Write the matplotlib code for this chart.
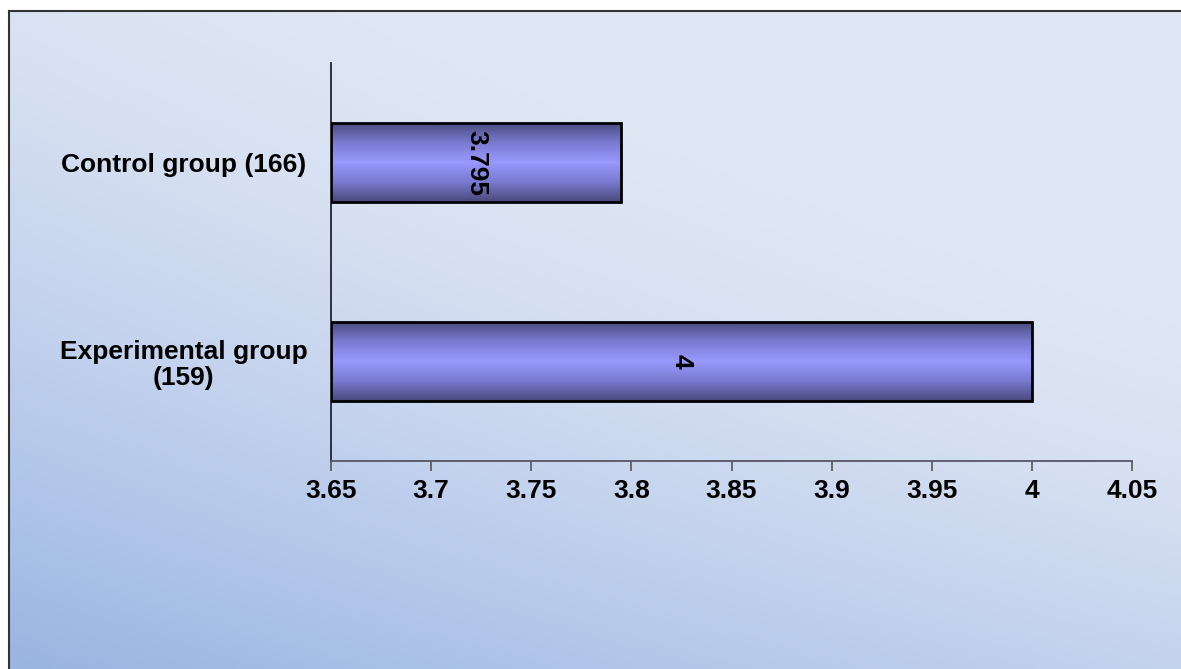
import numpy as np
import matplotlib
matplotlib.use("Agg")
import matplotlib.pyplot as plt
from matplotlib.colors import LinearSegmentedColormap

groups = ["Control group (166)", "Experimental group\n(159)"]
means = [3.795, 4.0]
bar_labels = ["3.795", "4"]
xticks = [3.65, 3.7, 3.75, 3.8, 3.85, 3.9, 3.95, 4.0, 4.05]
xtick_labels = ["3.65", "3.7", "3.75", "3.8", "3.85", "3.9", "3.95", "4", "4.05"]

plt.rcParams['font.family'] = ['Liberation Sans', 'DejaVu Sans']

W, H = 1181, 669
fig = plt.figure(figsize=(W / 100, H / 100), dpi=100)
fig.patch.set_facecolor("white")

# background panel, darker toward bottom-left corner
bg = fig.add_axes([9 / W, 0, (W - 9) / W, (H - 11) / H])
yy, xx = np.mgrid[0:1:200j, 0:1:300j]
t = np.clip(0.45 * xx + 0.8 * yy + 0.25 * xx * yy, 0, 1)
bg_cmap = LinearSegmentedColormap.from_list("bg", ["#9ab5e1", "#b3c7ea", "#c8d5ee", "#d8e1f2", "#e0e7f4"])
bg.imshow(t, cmap=bg_cmap, origin="lower", aspect="auto", extent=[0, 1, 0, 1])
bg.set_xticks([])
bg.set_yticks([])
for s in ["right", "bottom"]:
    bg.spines[s].set_visible(False)
for s in ["left", "top"]:
    bg.spines[s].set_color("#333333")
    bg.spines[s].set_linewidth(1.5)

# main axes: x 331..1132, y 63..461 (pixels from top)
ax = fig.add_axes([331 / W, (H - 461) / H, (1132 - 331) / W, (461 - 63) / H])
ax.patch.set_alpha(0)
ax.set_xlim(3.65, 4.05)
ax.set_ylim(1.5, -0.5)

ypos = np.arange(len(groups))
bars = ax.barh(ypos, [m - 3.65 for m in means], left=3.65, height=0.4,
               color="none", edgecolor="black", linewidth=2, zorder=3)

bar_cmap = LinearSegmentedColormap.from_list("bar", ["#4a4a7e", "#7a7ad0", "#9999ff", "#7a7ad0", "#4a4a7e"])
grad = np.linspace(0, 1, 100).reshape(-1, 1)
for b in bars:
    x0, y0 = b.get_x(), b.get_y()
    im = ax.imshow(grad, cmap=bar_cmap, aspect="auto", zorder=2,
                   extent=[x0, x0 + b.get_width(), y0 + b.get_height(), y0])
    im.set_clip_path(b)

for y, m, lab in zip(ypos, means, bar_labels):
    ax.text((3.65 + m) / 2, y, lab, rotation=-90, ha="center", va="center",
            fontsize=19, fontweight="bold", zorder=4)

ax.set_xticks(xticks)
ax.set_xticklabels(xtick_labels, fontsize=19, fontweight="bold")
ax.set_yticks(ypos)
ax.set_yticklabels(groups, fontsize=19, fontweight="bold", ha="center", linespacing=1.1)
ax.tick_params(axis="y", length=0, pad=106)
ax.tick_params(axis="x", length=7, width=1.2, color="#555555", pad=6)
ax.spines["top"].set_visible(False)
ax.spines["right"].set_visible(False)
ax.spines["left"].set_color("#222233")
ax.spines["bottom"].set_color("#555566")
ax.spines["left"].set_linewidth(1.3)
ax.spines["bottom"].set_linewidth(1.3)

fig.savefig("out.png", dpi=100)
